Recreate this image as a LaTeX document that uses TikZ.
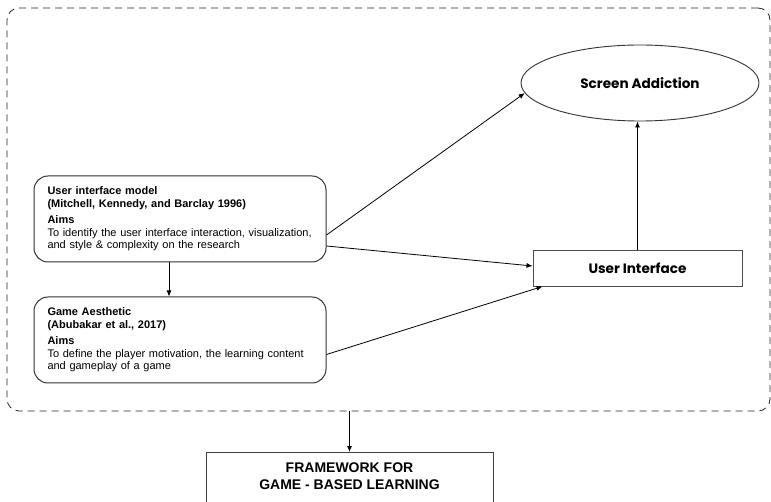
\documentclass[tikz,border=0pt]{standalone}
\usepackage{fontspec}
\setmainfont{Liberation Sans}
\newfontfamily\headfont{Poppins}
\usepackage{tikz}
\usetikzlibrary{shapes,arrows.meta}
\usetikzlibrary{positioning}
\tikzstyle{arrow} = [-{Latex[length=6pt,width=5pt]}, line width=0.8pt]
\tikzstyle{model} = [rectangle, rounded corners=14pt, draw=black!80, line width=1pt,
   minimum width=292pt, minimum height=86pt, text width=265pt, inner xsep=13.5pt,
   align=left, font=\fontsize{11}{12.7}\selectfont]
\tikzstyle{outcome} = [ellipse, draw=black!80, line width=0.9pt, minimum width=238pt,
   minimum height=76pt, font=\headfont\bfseries\fontsize{13.6}{16}\selectfont]
\tikzstyle{varbox} = [rectangle, draw=black!70, line width=0.9pt, minimum width=209pt,
   minimum height=36pt, font=\headfont\bfseries\fontsize{13.6}{16}\selectfont]
\tikzstyle{groupbox} = [rectangle, rounded corners=12pt, draw=black!85,
   dash pattern=on 7pt off 5pt, line width=0.8pt, minimum width=763pt, minimum height=403pt]
\tikzstyle{fwbox} = [rectangle, draw=black!75, line width=0.9pt, anchor=north,
   minimum width=287pt, align=center, inner ysep=10pt, text depth=40pt,
   font=\bfseries\fontsize{14}{17.7}\selectfont]

\begin{document}
\begin{tikzpicture}[x=1pt, y=-1pt]
\useasboundingbox (0,0) rectangle (771,502);

\node (frame) [groupbox] at (388.5,209.5) {};

\node (uim) [model] at (180,219) {\textbf{User interface model}\\
\textbf{(Mitchell, Kennedy, and Barclay 1996)}\\[3pt]
\textbf{Aims}\\
To identify the user interface interaction, visualization,\\
and style \& complexity on the research};

\node (ga) [model, below=34pt of uim] {\textbf{Game Aesthetic}\\
\textbf{(Abubakar et al., 2017)}\\[3pt]
\textbf{Aims}\\
To define the player motivation, the learning content\\
and gameplay of a game};

\node (sa) [outcome] at (640,83) {Screen Addiction};

\node (ui) [varbox] at (637.5,268) {User Interface};

\draw [arrow] ([xshift=-11pt]uim.south) -- ([xshift=-11pt]ga.north);
\draw [arrow] ([yshift=-16pt]uim.east) -- (sa.185);
\draw [arrow] ([yshift=-27pt]uim.east) -- ([yshift=2pt]ui.west);
\draw [arrow] ([yshift=-14.5pt]ga.east) -- ([xshift=10pt]ui.south west);
\draw [arrow] (ui.north) -- (ui.north |- sa.south);

\node (fw) [fwbox] at (349.5,452) {FRAMEWORK FOR\\ GAME - BASED LEARNING};

\draw [arrow] (frame.south -| fw.north) -- (fw.north);

\end{tikzpicture}
\end{document}
